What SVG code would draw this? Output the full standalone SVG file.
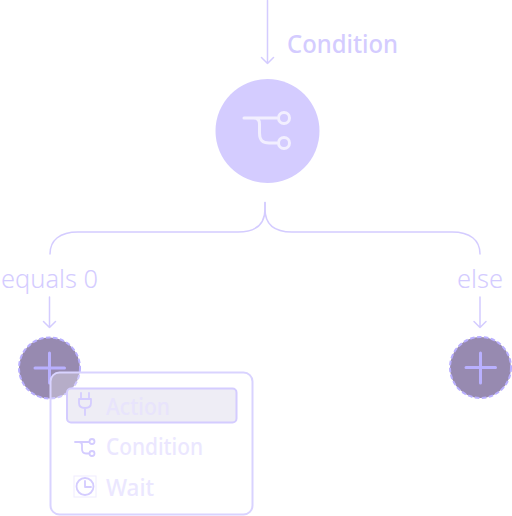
<svg xmlns="http://www.w3.org/2000/svg" width="512" height="516" viewBox="0 0 512 516">
<style>
.ln{fill:none;stroke:#d4ccff;stroke-width:1.5;stroke-linecap:round;stroke-linejoin:round}
.t{font-family:"Noto Sans","Open Sans",sans-serif;fill:#d4ccff}
.lab{font-size:26px}
.bold{font-size:26px;font-weight:500}
.item{font-size:23px;font-weight:500;fill:#ebe7ff}
.add{fill:#978ab0;stroke:#b9afff;stroke-width:2;stroke-dasharray:4.500 2.500}
.plus{fill:none;stroke:#b9b0ff;stroke-width:3;stroke-linecap:round}
.ic{fill:none;stroke:#d4ccff;stroke-width:1.8;stroke-linecap:round;stroke-linejoin:round}
</style>
<rect width="512" height="516" fill="#fff"/>
<g id="connectors">
<path class="ln" d="M267.500 0.500V63.500M261.500 57.500L267.500 63.500L273.500 57.500"/>
<path class="ln" d="M265 202.500V209C265 224 257 232 238 232H78C60 232 50 240 50 254"/>
<path class="ln" d="M265 202.500V209C265 224 273 232 292 232H452C470 232 480 240 480 254"/>
<path class="ln" d="M49.500 297V327.500M43.500 321.500L49.500 327.500L55.500 321.500"/>
<path class="ln" d="M480 297V327.500M474 321.500L480 327.500L486 321.500"/>
</g>
<g id="label-condition"><text class="t bold" x="287" y="53" textLength="111" lengthAdjust="spacingAndGlyphs">Condition</text></g>
<g id="label-equals"><text class="t lab" x="1" y="288" textLength="97" lengthAdjust="spacingAndGlyphs" style="font-weight:300">equals 0</text></g>
<g id="label-else"><text class="t lab" x="457" y="288" textLength="46" lengthAdjust="spacingAndGlyphs" style="font-weight:300">else</text></g>
<g id="node-condition">
<circle cx="267.500" cy="131" r="52" fill="#d4ccff"/>
<path d="M244 118H277M254 118C258 118 259.500 120 259.500 124V133C259.500 140 262 143 269 143H277" fill="none" stroke="#f2efff" stroke-width="3" stroke-linecap="round"/>
<circle cx="284" cy="118" r="5.500" fill="none" stroke="#f2efff" stroke-width="3"/>
<circle cx="284" cy="143" r="5.500" fill="none" stroke="#f2efff" stroke-width="3"/>
</g>
<g id="node-add-left">
<circle class="add" cx="49.500" cy="368" r="30.500"/>
<path class="plus" d="M35 368H64.500M49.500 353V383"/>
</g>
<g id="node-add-right">
<circle class="add" cx="480.500" cy="367.500" r="30.500"/>
<path class="plus" d="M466 367.500H495.500M480.500 353V383"/>
</g>
<g id="menu">
<rect x="50.500" y="372.500" width="202" height="142" rx="9" fill="#fff" fill-opacity=".3" stroke="#d9d3ff" stroke-width="2"/>
<rect x="67" y="388.500" width="169.500" height="34" rx="4" fill="#eeedf5" stroke="#d4ccff" stroke-width="2"/>
<g id="item-action">
<path class="ic" d="M81 393V399M89 393V399M79 399H91V403C91 406 89 408 85 408C81 408 79 406 79 403ZM85 408V415"/>
<text class="t item" x="106" y="415" textLength="64" lengthAdjust="spacingAndGlyphs" style="fill:#e8e4fc">Action</text>
</g>
<g id="item-condition">
<path class="ic" d="M75 442H89M79 442C81 442 82 443 82 445V449C82 452 83.500 453.500 86 453.500H89"/>
<circle class="ic" cx="92" cy="441.500" r="2.500"/><circle class="ic" cx="92" cy="453.500" r="2.500"/>
<text class="t item" x="106" y="455" textLength="97" lengthAdjust="spacingAndGlyphs">Condition</text>
</g>
<g id="item-wait">
<rect x="74" y="476" width="22" height="21" fill="none" stroke="#efecff" stroke-width="1"/>
<circle class="ic" cx="85" cy="486.500" r="8.500"/><path class="ic" d="M85 481V487H91"/>
<text class="t item" x="106" y="496" textLength="48" lengthAdjust="spacingAndGlyphs">Wait</text>
</g>
</g>
</svg>
